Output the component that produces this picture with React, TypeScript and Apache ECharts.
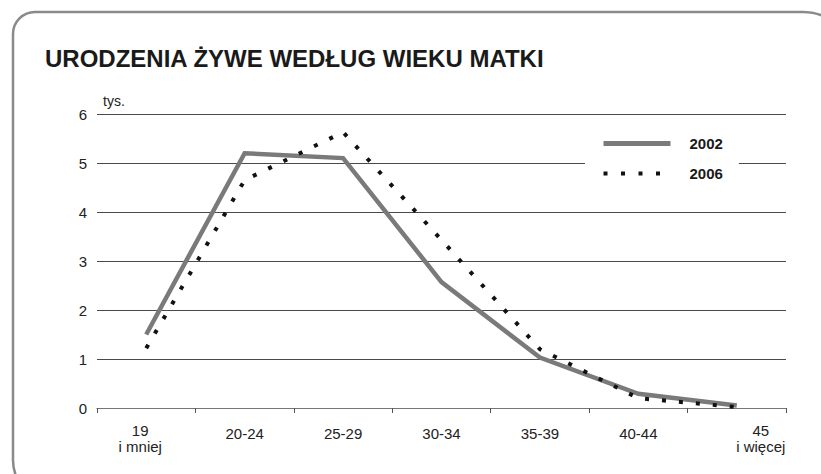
import React, { useEffect, useRef } from "react";
import * as echarts from "echarts";

const categories = ["19\ni mniej", "20-24", "25-29", "30-34", "35-39", "40-44", "45\ni więcej"];
const series2002 = [1.5, 5.2, 5.1, 2.57, 1.03, 0.29, 0.05];
const series2006 = [1.22, 4.65, 5.63, 3.43, 1.2, 0.2, 0.02];
const yTicks = { min: 0, max: 6, interval: 1 };
const titleText = "URODZENIA ŻYWE WEDŁUG WIEKU MATKI";
const unitText = "tys.";

export default function App() {
  const ref = useRef<HTMLDivElement>(null);
  useEffect(() => {
    if (!ref.current) return;
    const chart = echarts.init(ref.current, null, { renderer: "svg" });
    const font = "'Liberation Sans', Arial, sans-serif";
    const catData = categories.map((c, i) => {
      if (i === 0) return { value: c, textStyle: { padding: [0, 12, 0, 0] } };
      if (i === categories.length - 1) return { value: c, textStyle: { padding: [0, 0, 0, 48] } };
      return { value: c, textStyle: { padding: [3, 0, 0, 0] } };
    });
    chart.setOption({
      animation: false,
      textStyle: { fontFamily: font },
      title: {
        text: titleText,
        left: 40,
        top: 41,
        textStyle: { fontSize: 24, fontWeight: "bold", color: "#1a1a1a", fontFamily: font },
      },
      graphic: [
        {
          type: "rect",
          shape: { x: 13, y: 12, width: 840, height: 490, r: [22, 50, 30, 42] },
          style: { fill: "none", stroke: "#8a8a8a", lineWidth: 2.5 },
          silent: true,
          z: -1,
        },
      ],
      legend: {
        orient: "vertical",
        left: 585,
        top: 126,
        backgroundColor: "#ffffff",
        padding: [10, 16, 10, 16],
        itemWidth: 67,
        itemHeight: 5,
        itemGap: 15,
        itemStyle: { opacity: 0 },
        textStyle: { fontSize: 15, fontWeight: "bold", color: "#1a1a1a", padding: [0, 0, 0, 14], fontFamily: font },
        data: [
          { name: "2002", lineStyle: { width: 5, color: "#7a7a7a" } },
          { name: "2006", lineStyle: { width: 4, color: "#111", type: [4, 13.5], cap: "butt" } },
        ],
      },
      grid: { left: 97, right: 35, top: 114, bottom: 66, outerBoundsMode: "none", containLabel: false },
      xAxis: {
        type: "category",
        data: catData,
        boundaryGap: true,
        axisLine: { lineStyle: { color: "#777", width: 1.2 } },
        axisTick: { show: true, length: 5, lineStyle: { color: "#555" }, interval: 0 },
        axisLabel: {
          fontSize: 15,
          color: "#222",
          interval: 0,
          lineHeight: 16,
          verticalAlign: "top",
          margin: 14,
          fontFamily: font,
        },
      },
      yAxis: {
        type: "value",
        min: yTicks.min,
        max: yTicks.max,
        interval: yTicks.interval,
        name: unitText,
        nameLocation: "end",
        nameGap: 6,
        nameTextStyle: { fontSize: 14, color: "#222", align: "left", padding: [0, 0, 0, 6], fontFamily: font },
        axisLine: { show: false },
        axisTick: { show: false },
        axisLabel: { fontSize: 15, color: "#222", margin: 10, fontFamily: font },
        splitLine: { lineStyle: { color: "#4a4a4a", width: 1 } },
      },
      series: [
        {
          name: "2002",
          type: "line",
          data: series2002,
          symbol: "none",
          lineStyle: { color: "#7a7a7a", width: 4.5, cap: "butt", join: "miter" },
          itemStyle: { color: "#7a7a7a" },
          z: 2,
        },
        {
          name: "2006",
          type: "line",
          data: series2006,
          symbol: "none",
          lineStyle: { color: "#111", width: 4, type: [4, 13], cap: "butt" },
          itemStyle: { color: "#111" },
          z: 3,
        },
      ],
    });
    return () => chart.dispose();
  }, []);
  return (
    <div style={{ position: "absolute", left: 0, top: 0, width: 821, height: 474, overflow: "hidden", background: "#fff" }}>
      <div ref={ref} style={{ position: "absolute", left: 0, top: 0, width: 821, height: 474 }} />
    </div>
  );
}
